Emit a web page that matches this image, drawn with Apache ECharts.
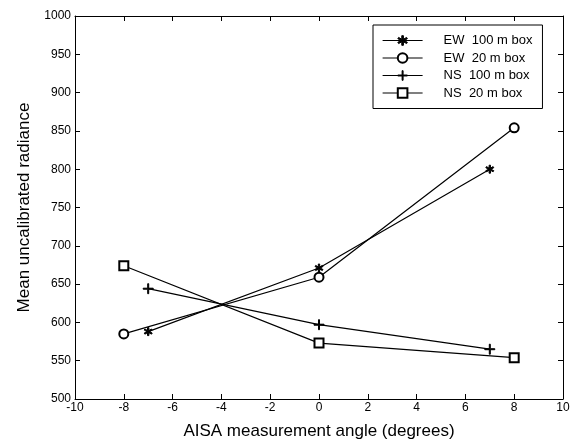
<!DOCTYPE html>
<html>
<head>
<meta charset="utf-8">
<style>
  html, body { margin: 0; padding: 0; background: #fff; }
  #chart { width: 577px; height: 445px; }
</style>
<script src="https://cdn.jsdelivr.net/npm/echarts@6/dist/echarts.min.js"></script>
</head>
<body>
<div id="chart"></div>
<script>
// angles (degrees) and mean radiance for each box
const ew100 = [[-7, 588], [0, 671], [7, 800]];
const ew20 = [[-8, 585], [0, 659], [8, 854]];
const ns100 = [[-7, 644], [0, 597], [7, 565]];
const ns20 = [[-8, 674], [0, 573], [8, 554]];
const seriesNames = ["EW  100 m box", "EW  20 m box", "NS  100 m box", "NS  20 m box"];

const font = "Liberation Sans, Arial, Helvetica, sans-serif";

// marker shapes
const asterisk = "path://M4.3,0h1.4v3.3l2.7-1.7l0.7,1.2l-2.8,1.7l2.8,1.7l-0.7,1.2l-2.7-1.7v3.3h-1.4v-3.3l-2.7,1.7l-0.7-1.2l2.8-1.7l-2.8-1.7l0.7-1.2l2.7,1.7z";
const plus = "path://M4.5,0h1v4.5h4.5v1h-4.5v4.5h-1v-4.5h-4.5v-1h4.5z";

function line(name, data, symbol, size) {
  return {
    name: name,
    type: "line",
    data: data,
    symbol: symbol,
    symbolSize: size,
    showAllSymbol: true,
    lineStyle: { color: "#000", width: 1.2 },
    itemStyle: { color: "#000", borderColor: "#000", borderWidth: 1 },
    emphasis: { disabled: true },
    z: 3
  };
}

const axisBase = {
  axisLine: { show: true, onZero: false, lineStyle: { color: "#000", width: 1 } },
  axisTick: { show: true, inside: true, length: 5, lineStyle: { color: "#000" } },
  splitLine: { show: false }
};

const chart = echarts.init(document.getElementById("chart"));
chart.setOption({
  animation: false,
  backgroundColor: "#fff",
  grid: { left: 75, right: 14, top: 16, bottom: 42 },
  legend: {
    orient: "vertical",
    left: 373,
    top: 25,
    padding: [9, 10, 9, 9],
    itemGap: 4.5,
    itemWidth: 40,
    itemHeight: 12,
    borderColor: "#000",
    borderWidth: 1,
    backgroundColor: "#fff",
    lineStyle: { width: 1.2 },
    itemStyle: { borderWidth: 1 },
    textStyle: { fontFamily: font, fontSize: 13, color: "#000", padding: [0, 0, 0, 16] },
    data: seriesNames
  },
  xAxis: [
    Object.assign({}, axisBase, {
      type: "value", min: -10, max: 10, interval: 2,
      name: "AISA measurement angle (degrees)",
      nameLocation: "middle", nameGap: 24,
      nameTextStyle: { fontFamily: font, fontSize: 17, color: "#000" },
      axisLabel: { fontFamily: font, fontSize: 12, color: "#000", margin: 3 }
    }),
    Object.assign({}, axisBase, {
      type: "value", position: "top", min: -10, max: 10, interval: 2,
      axisLabel: { show: false }
    })
  ],
  yAxis: [
    Object.assign({}, axisBase, {
      type: "value", min: 500, max: 1000, interval: 50,
      name: "Mean uncalibrated radiance",
      nameLocation: "middle", nameGap: 42,
      nameTextStyle: { fontFamily: font, fontSize: 17, color: "#000" },
      axisLabel: { fontFamily: font, fontSize: 12, color: "#000", margin: 4, formatter: function (v) { return String(v); } }
    }),
    Object.assign({}, axisBase, {
      type: "value", position: "right", min: 500, max: 1000, interval: 50,
      axisLabel: { show: false }
    })
  ],
  series: [
    line(seriesNames[0], ew100, asterisk, 8),
    line(seriesNames[1], ew20, "emptyCircle", 9),
    line(seriesNames[2], ns100, plus, 10),
    line(seriesNames[3], ns20, "emptyRect", 9)
  ]
});
</script>
</body>
</html>
